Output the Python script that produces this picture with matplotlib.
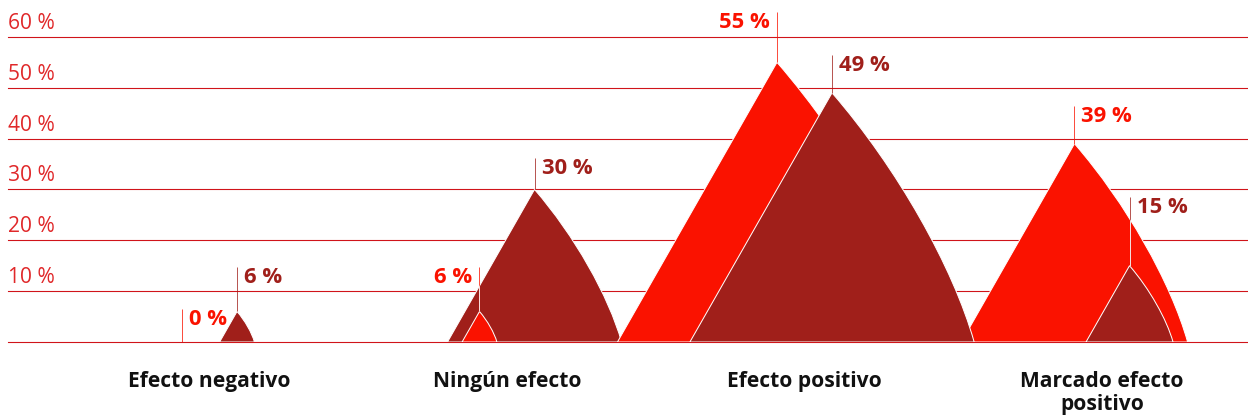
import matplotlib.pyplot as plt
from matplotlib.path import Path
from matplotlib.patches import PathPatch

categories = ['Efecto negativo', 'Ningún efecto', 'Efecto positivo',
              'Marcado efecto\npositivo']
serie_a = [0, 6, 55, 39]    # rojo claro
serie_b = [6, 30, 49, 15]   # rojo oscuro
yticks = [10, 20, 30, 40, 50, 60]

# layout of the value labels (top of leader line, in % units) and side
label_top_a = [6.5, 14.7, 64.8, 46.4]
label_top_b = [14.7, 36.2, 56.4, 28.5]
label_side_a = ['right', 'left', 'left', 'right']
label_side_b = ['right', 'right', 'right', 'right']

RED = '#fa1200'
DARK = '#a01f1a'
GRID = '#d0141a'
TICK = '#e0282a'

plt.rcParams['font.family'] = ['Open Sans', 'DejaVu Sans']

W, H = 1248, 418
fig = plt.figure(figsize=(W / 72, H / 72), dpi=72)
ax = fig.add_axes([8 / W, 76 / H, 1240 / W, 342 / H])
step = 297.5  # px between categories
ax.set_xlim((8 - 209.5) / step, (1248 - 209.5) / step)
ax.set_ylim(0, 342 / 5.085)
ax.axis('off')

shift = 0.0925   # offset of each peak from the category centre
hw_per = 0.00975  # half base width per percent point


def peak(x, v):
    hw = hw_per * v
    verts = [(x - hw, 0), (x, v),
             (x + 0.456 * hw, 0.7 * v), (x + 0.853 * hw, 0.3 * v), (x + hw, 0),
             (x - hw, 0)]
    codes = [Path.MOVETO, Path.LINETO, Path.CURVE4, Path.CURVE4, Path.CURVE4,
             Path.CLOSEPOLY]
    return Path(verts, codes)


for t in [0] + yticks:
    ax.axhline(t, color=GRID, lw=1.1, zorder=0, clip_on=False)
for t in yticks:
    ax.annotate(f'{t} %', xy=(0, t), xycoords=ax.get_yaxis_transform(),
                xytext=(0, 8), textcoords='offset points',
                ha='left', va='baseline', fontsize=21, color=TICK)

for i, cat in enumerate(categories):
    a, b = serie_a[i], serie_b[i]
    xa, xb = i - shift, i + shift
    pa = PathPatch(peak(xa, a), facecolor=RED, edgecolor='white', lw=1)
    pb = PathPatch(peak(xb, b), facecolor=DARK, edgecolor='white', lw=1)
    # the taller peak sits behind
    pa.set_zorder(2 if a >= b else 3)
    pb.set_zorder(2 if b > a else 3)
    ax.add_patch(pa)
    ax.add_patch(pb)

    for x, v, top, side, col, other in [
            (xa, a, label_top_a[i], label_side_a[i], RED, pb),
            (xb, b, label_top_b[i], label_side_b[i], DARK, pa)]:
        ax.plot([x, x], [v, top], color=col, lw=1, alpha=0.75, zorder=5,
                solid_capstyle='butt')
        wl, = ax.plot([x, x], [v, top], color='white', lw=1, alpha=0.85,
                      zorder=6, solid_capstyle='butt')
        wl.set_clip_path(other)
        dx = 7 if side == 'right' else -7
        ax.annotate(f'{v} %', xy=(x, top), xytext=(dx, 0),
                    textcoords='offset points', ha='left' if side == 'right' else 'right',
                    va='top', fontsize=22, fontweight='bold', color=col, zorder=7)

    ax.annotate(cat, xy=(i, 0), xytext=(0, -29), textcoords='offset points',
                ha='center', va='top', fontsize=21, fontweight='bold',
                color='#111111', linespacing=1.15, annotation_clip=False)

fig.savefig('out.png', dpi=72)
